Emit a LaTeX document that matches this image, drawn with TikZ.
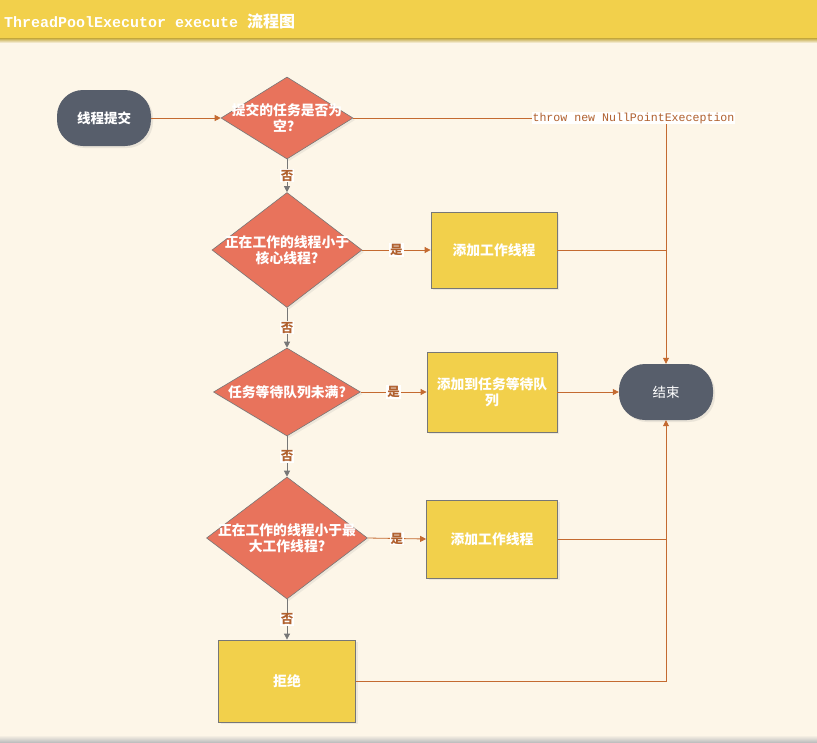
\documentclass[tikz,border=0pt]{standalone}
\usepackage{fontspec}
\setmainfont{Noto Sans CJK SC}
\setmonofont{Liberation Mono}
\newfontfamily\cjk{Noto Sans CJK SC}
\usetikzlibrary{shapes.geometric, arrows.meta, positioning, calc, shadows}

\definecolor{paper}{HTML}{FDF6E8}
\definecolor{gold}{HTML}{F2D04B}
\definecolor{coral}{HTML}{E8735C}
\definecolor{slate}{HTML}{575E6B}
\definecolor{rust}{HTML}{C46A30}
\definecolor{labelbrown}{HTML}{B0602E}
\definecolor{edgegrey}{HTML}{777777}

\tikzset{
  terminal/.style={rectangle, rounded corners=26pt, fill=slate, text=white, minimum width=94pt, minimum height=56pt, font=\cjk\fontsize{13.5}{15}\selectfont, drop shadow={shadow xshift=2pt, shadow yshift=-2pt, opacity=0.15}},
  decision/.style={diamond, fill=coral, draw=edgegrey, line width=0.6pt, inner sep=0pt, drop shadow={shadow xshift=2pt, shadow yshift=-2pt, opacity=0.12}},
  dtext/.style={text=white, align=center, font=\cjk\bfseries\fontsize{13.8}{16.5}\selectfont},
  action/.style={rectangle, fill=gold, draw=edgegrey, line width=0.8pt, text=white, align=center, font=\cjk\bfseries\fontsize{13.8}{16.5}\selectfont, drop shadow={shadow xshift=2pt, shadow yshift=-2pt, opacity=0.12}},
  yesno/.style={fill=white, text=labelbrown, inner sep=1pt, font=\cjk\bfseries\fontsize{12.5}{12.5}\selectfont},
  flow/.style={draw=rust, line width=0.8pt, -{Triangle[length=6pt, width=6pt]}},
  down/.style={draw=edgegrey, line width=0.8pt, -{Triangle[length=6pt, width=6pt]}},
  tieline/.style={draw=rust, line width=0.8pt}
}

\begin{document}
\begin{tikzpicture}[x=1pt, y=-1pt]
\useasboundingbox (0,0) rectangle (817,742);
\fill[paper] (0,0) rectangle (817,742);
% title bar
\fill[gold] (0,0) rectangle (817,38);
\shade[top color=gold!80!black, bottom color=paper] (0,38) rectangle (817,43);
\shade[top color=paper, bottom color=black!25] (0,735) rectangle (817,742);
\node (title) [anchor=west, text=white, inner sep=0pt] at (4,21) {{\ttfamily\bfseries\fontsize{15}{16}\selectfont ThreadPoolExecutor execute }{\cjk\bfseries\fontsize{16}{16}\selectfont 流程图}};

\node (start) [terminal, font=\cjk\bfseries\fontsize{13.5}{15}\selectfont] at (104,118) {线程提交};
\node (d1) [decision, minimum width=132pt, minimum height=82pt, label={[dtext]center:提交的任务是否为\\空？}] at (287,118) {};
\node (d2) [decision, minimum width=150pt, minimum height=115pt, label={[dtext]center:正在工作的线程小于\\核心线程?}] at (287,250) {};
\node (d3) [decision, minimum width=147pt, minimum height=88pt, label={[dtext]center:任务等待队列未满?}] at (287,392) {};
\node (d4) [decision, minimum width=161pt, minimum height=122pt, label={[dtext]center:正在工作的线程小于最\\大工作线程?}] at (287,538) {};

\node (b1) [action, minimum width=126pt, minimum height=76pt] at (494,250) {添加工作线程};
\node (b2) [action, minimum width=130pt, minimum height=80pt, text width=122pt] at (492,392) {添加到任务等待队\\列};
\node (b3) [action, minimum width=131pt, minimum height=78pt] at (492,539) {添加工作线程};
\node (b4) [action, minimum width=137pt, minimum height=82pt] at (287,681) {拒绝};

\node (finish) [terminal] at (666,392) {结束};

\draw[flow] (start) -- (d1);
\draw[flow] (d1.east) -| node[pos=0.448, fill=white, text=labelbrown, inner sep=1pt, font=\ttfamily\fontsize{11.6}{12}\selectfont] {throw new NullPointExeception} (finish.north);

\draw[down] (d1.south) -- node[yesno] {否} (d2.north);
\draw[down] (d2.south) -- node[yesno] {否} (d3.north);
\draw[down] (d3.south) -- node[yesno] {否} (d4.north);
\draw[down] (d4.south) -- node[yesno] {否} (b4.north);

\draw[flow] (d2.east) -- node[yesno] {是} (b1.west);
\draw[flow] (d3.east) -- node[yesno] {是} (b2.west);
\draw[flow] (d4.east) -- node[yesno] {是} (b3.west);

\draw[tieline] (b1.east) -- (b1.east -| finish.north);
\draw[flow] (b2.east) -- (finish.west);
\draw[tieline] (b3.east) -- (b3.east -| finish.south);
\draw[flow] (b4.east) -| (finish.south);
\end{tikzpicture}
\end{document}
